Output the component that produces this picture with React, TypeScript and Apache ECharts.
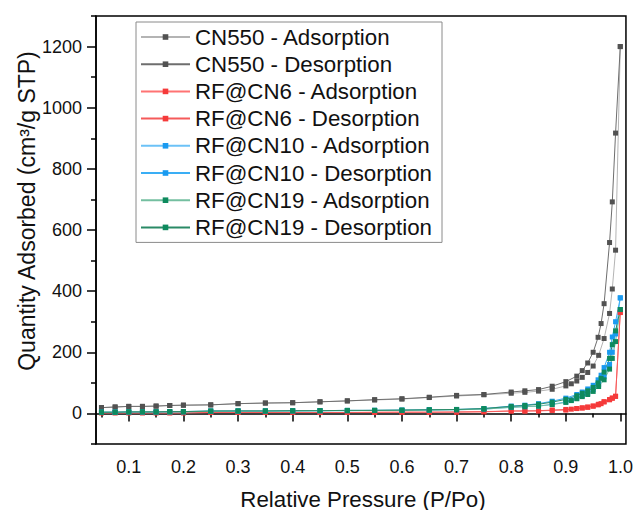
import React, { useEffect, useRef } from "react";
import * as echarts from "echarts";

// ---- Data ----
const adsX = [0.05, 0.075, 0.1, 0.125, 0.15, 0.175, 0.2, 0.25, 0.3, 0.35, 0.4, 0.45, 0.5, 0.55, 0.6, 0.65, 0.7, 0.75, 0.8, 0.825, 0.85, 0.875, 0.9, 0.91, 0.92, 0.93, 0.94, 0.95, 0.96, 0.97, 0.98, 0.985, 0.991, 0.9996];
const desX = [0.9996, 0.991, 0.985, 0.98, 0.97, 0.9645, 0.959, 0.95, 0.94, 0.93, 0.92, 0.9, 0.875, 0.85, 0.825, 0.8, 0.75, 0.7, 0.65, 0.6, 0.55, 0.5, 0.45, 0.4, 0.35, 0.3, 0.25, 0.2, 0.175, 0.15, 0.125, 0.1, 0.075, 0.05];

const cn550Ads = [19, 21, 23, 23, 24, 26, 27, 28, 32, 34, 35, 38, 41, 44, 47, 52, 57, 61, 66, 69, 73, 79, 90, 97, 106, 118, 134, 155, 190, 245, 327, 407, 534, 1200];
const cn550Des = [1200, 917, 692, 559, 359, 294, 249, 200, 165, 140, 122, 104, 89, 78, 74, 70, 62, 59, 53, 48, 45, 41, 38, 35, 34, 32, 28, 27, 26, 24, 23, 23, 21, 19];

const cn6Ads = [2, 2, 2, 2, 2, 2, 2, 3, 3, 3, 3, 3, 3, 3, 4, 4, 4, 5, 8, 8, 8, 10, 11, 14, 16, 18, 20, 24, 30, 38, 45, 50, 56, 330];
const cn6Des = [330, 56, 50, 45, 38, 32, 28, 24, 21, 18, 16, 13, 11, 9, 8, 8, 6, 5, 4, 4, 4, 3, 3, 3, 3, 3, 3, 2, 2, 2, 2, 2, 2, 2];

const cn10Ads = [4, 4, 5, 5, 5, 5, 5, 7, 8, 8, 8, 9, 9, 10, 10, 11, 12, 14, 20, 22, 24, 30, 38, 44, 50, 58, 66, 78, 95, 120, 160, 200, 260, 378];
const cn10Des = [378, 300, 250, 200, 150, 125, 110, 92, 80, 70, 62, 50, 40, 32, 27, 24, 16, 13, 12, 11, 10, 10, 9, 9, 8, 8, 8, 6, 6, 5, 5, 5, 4, 4];

const cn19Ads = [4, 4, 5, 5, 5, 5, 5, 7, 8, 8, 8, 9, 9, 10, 10, 11, 12, 14, 20, 22, 24, 29, 36, 42, 48, 55, 62, 72, 88, 110, 145, 180, 235, 340];
const cn19Des = [340, 270, 225, 180, 135, 115, 100, 85, 74, 66, 58, 46, 37, 30, 26, 23, 16, 13, 12, 11, 10, 10, 9, 9, 8, 8, 8, 6, 6, 5, 5, 5, 4, 4];

const xLabelValues = [0.1, 0.2, 0.3, 0.4, 0.5, 0.6, 0.7, 0.8, 0.9, 1.0];
const xMinorValues = [0.05, 0.15, 0.25, 0.35, 0.45, 0.55, 0.65, 0.75, 0.85, 0.95];
const yLabelValues = [0, 200, 400, 600, 800, 1000, 1200];
const yMinorValues = [-100, 100, 300, 500, 700, 900, 1100, 1300];

const seriesDefs = [
  { name: "CN550 - Adsorption", x: adsX, y: cn550Ads, line: "#b4b4b4", mark: "#525252" },
  { name: "CN550 - Desorption", x: desX, y: cn550Des, line: "#6e6e6e", mark: "#525252" },
  { name: "RF@CN6 - Adsorption", x: adsX, y: cn6Ads, line: "#ff7373", mark: "#f53a3a" },
  { name: "RF@CN6 - Desorption", x: desX, y: cn6Des, line: "#f55a5a", mark: "#f53a3a" },
  { name: "RF@CN10 - Adsorption", x: adsX, y: cn10Ads, line: "#6cc2f7", mark: "#1a9af0" },
  { name: "RF@CN10 - Desorption", x: desX, y: cn10Des, line: "#3aaef5", mark: "#1a9af0" },
  { name: "RF@CN19 - Adsorption", x: adsX, y: cn19Ads, line: "#74bfa0", mark: "#0e8a5e" },
  { name: "RF@CN19 - Desorption", x: desX, y: cn19Des, line: "#2a8a66", mark: "#0e8a5e" },
];

const FONT = "'Liberation Sans', Arial, sans-serif";

export default function App() {
  const ref = useRef<HTMLDivElement>(null);
  useEffect(() => {
    if (!ref.current) return;
    const chart = echarts.init(ref.current, undefined, { renderer: "svg" });
    const xRange = { min: 0.04, max: 1.01 };
    const yRange = { min: -100, max: 1300 };
    chart.setOption({
      animation: false,
      backgroundColor: "#fff",
      textStyle: { fontFamily: FONT },
      grid: {
        left: 96, top: 16, right: 7, bottom: 66,
        show: true, borderColor: "#000", borderWidth: 1.5, backgroundColor: "transparent",
      },
      legend: {
        orient: "vertical",
        left: 136, top: 22,
        padding: [4, 10, 4, 4],
        itemWidth: 49, itemHeight: 7, itemGap: 5.2,
        borderColor: "#8a8a8a", borderWidth: 1,
        textStyle: { fontSize: 22.3, color: "#111", fontFamily: FONT },
        data: seriesDefs.map((s) => s.name),
      },
      xAxis: [
        {
          type: "value", ...xRange, position: "bottom",
          axisLine: { show: true, lineStyle: { color: "#000", width: 1.5 } },
          axisTick: { show: true, customValues: xLabelValues, length: 8, lineStyle: { color: "#000", width: 1.5 } },
          axisLabel: { customValues: xLabelValues, fontSize: 18, color: "#111", margin: 14, formatter: (v: number) => v.toFixed(1) },
          splitLine: { show: false },
        },
        {
          type: "value", ...xRange, position: "bottom",
          axisLine: { show: false },
          axisTick: { show: true, customValues: xMinorValues, length: 4, lineStyle: { color: "#000", width: 1.5 } },
          axisLabel: { show: false },
          splitLine: { show: false },
        },
      ],
      yAxis: [
        {
          type: "value", ...yRange, position: "left",
          axisLine: { show: true, lineStyle: { color: "#000", width: 1.5 } },
          axisTick: { show: true, customValues: yLabelValues, length: 9, lineStyle: { color: "#000", width: 1.5 } },
          axisLabel: { customValues: yLabelValues, fontSize: 18, color: "#111", margin: 14, formatter: (v: number) => String(v) },
          splitLine: { show: false },
        },
        {
          type: "value", ...yRange, position: "left",
          axisLine: { show: false },
          axisTick: { show: true, customValues: yMinorValues, length: 5, lineStyle: { color: "#000", width: 1.5 } },
          axisLabel: { show: false },
          splitLine: { show: false },
        },
      ],
      graphic: [
        {
          type: "text", x: 27, y: 211, rotation: Math.PI / 2,
          style: { text: "Quantity Adsorbed (cm³/g STP)", fontSize: 23, fill: "#111", fontFamily: FONT, align: "center", verticalAlign: "middle" },
        },
        {
          type: "text", x: 363, y: 499,
          style: { text: "Relative Pressure (P/Po)", fontSize: 22.3, fill: "#111", fontFamily: FONT, align: "center", verticalAlign: "middle" },
        },
      ],
      series: seriesDefs.map((s) => ({
        name: s.name,
        type: "line",
        xAxisIndex: 0, yAxisIndex: 0,
        data: s.x.map((xv, i) => [xv, s.y[i]]),
        symbol: "rect", symbolSize: 5,
        showSymbol: true,
        lineStyle: { color: s.line, width: 1 },
        itemStyle: { color: s.mark },
        emphasis: { disabled: true },
      })),
    });
    return () => chart.dispose();
  }, []);
  return <div ref={ref} style={{ position: "fixed", left: 0, top: 0, width: 636, height: 510 }} />;
}
